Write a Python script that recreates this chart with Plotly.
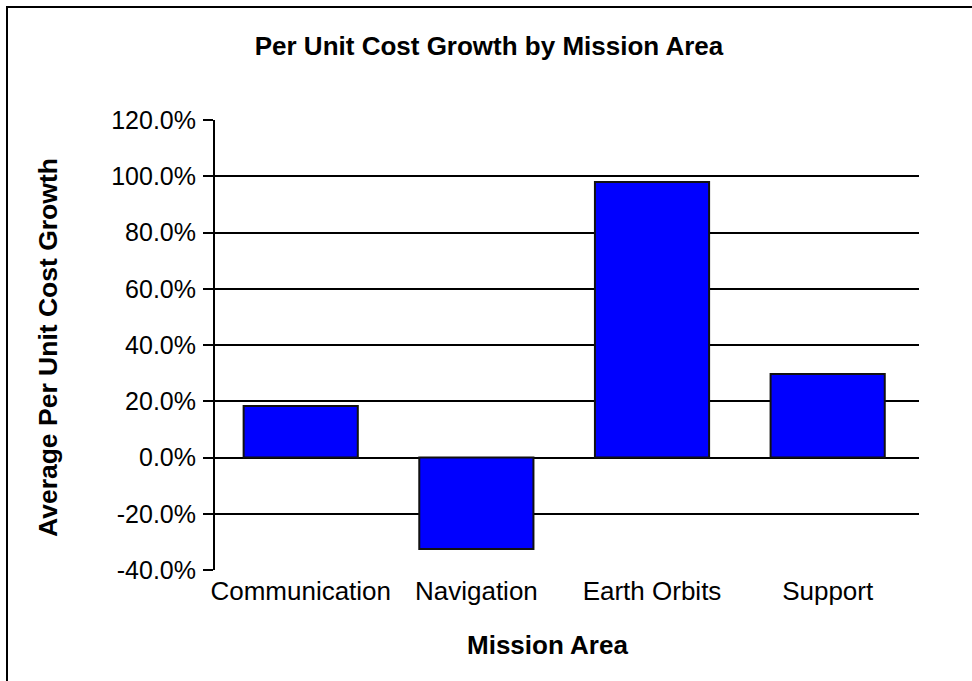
import plotly.graph_objects as go

# Average per-unit cost growth for each mission area (fraction, shown as %)
mission_areas = ["Communication", "Navigation", "Earth Orbits", "Support"]
cost_growth = [0.183, -0.325, 0.980, 0.297]
y_ticks = [-0.4, -0.2, 0.0, 0.2, 0.4, 0.6, 0.8, 1.0, 1.2]
y_tick_labels = [f"{v * 100:.1f}%" for v in y_ticks]

FONT = "Liberation Sans, Arial, sans-serif"

fig = go.Figure(
    go.Bar(
        x=mission_areas,
        y=cost_growth,
        marker=dict(color="#0000FF", line=dict(color="#111111", width=2)),
        width=0.65,
    )
)

fig.update_layout(
    width=972,
    height=681,
    paper_bgcolor="white",
    plot_bgcolor="white",
    margin=dict(l=215, r=53, t=120, b=111),
    showlegend=False,
    title=dict(
        text="<b>Per Unit Cost Growth by Mission Area</b>",
        x=489 / 972,
        xref="container",
        xanchor="center",
        y=1 - 46 / 681,
        yref="container",
        yanchor="middle",
        font=dict(family=FONT, size=26, color="black"),
    ),
    font=dict(family=FONT, color="black"),
)

fig.update_xaxes(
    range=[-0.488, 3.52],
    showgrid=False,
    showline=False,
    ticks="",
    tickfont=dict(size=26, color="black"),
    ticklabelstandoff=3,
)

fig.update_yaxes(
    range=[-0.4, 1.2],
    tickvals=y_ticks,
    ticktext=y_tick_labels,
    showgrid=True,
    gridcolor="black",
    gridwidth=2,
    zeroline=True,
    zerolinecolor="black",
    zerolinewidth=2,
    showline=True,
    linecolor="black",
    linewidth=2,
    ticks="outside",
    ticklen=10,
    tickwidth=2,
    tickcolor="black",
    tickfont=dict(size=25, color="black"),
    ticklabelstandoff=2,
)

# Axis titles
fig.add_annotation(
    text="<b>Mission Area</b>",
    xref="paper", yref="paper",
    x=(547 - 215) / 704, y=(570 - 645) / 450,
    xanchor="center", yanchor="middle",
    showarrow=False,
    font=dict(family=FONT, size=26, color="black"),
)
fig.add_annotation(
    text="<b>Average Per Unit Cost Growth</b>",
    xref="paper", yref="paper",
    x=(48 - 215) / 704, y=(570 - 348) / 450,
    xanchor="center", yanchor="middle",
    textangle=-90,
    showarrow=False,
    font=dict(family=FONT, size=26.5, color="black"),
)

# Outer chart frame
fig.add_shape(
    type="rect",
    xref="paper", yref="paper",
    x0=(7 - 215) / 704, x1=1.2,
    y0=-0.4, y1=(570 - 7) / 450,
    line=dict(color="black", width=2),
    fillcolor="rgba(0,0,0,0)",
    layer="below",
)

fig.write_html("out.html")
